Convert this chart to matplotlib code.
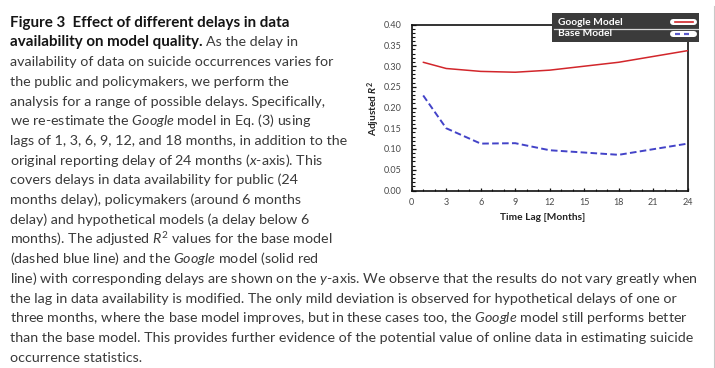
import matplotlib
matplotlib.use('Agg')
import matplotlib.pyplot as plt
from matplotlib.patches import Rectangle
from matplotlib.lines import Line2D
from matplotlib.ticker import MultipleLocator, FormatStrFormatter

# ---------------- data ----------------
lags = [1, 3, 6, 9, 12, 18, 24]
google_r2 = [0.309, 0.294, 0.287, 0.285, 0.290, 0.309, 0.337]
base_r2 = [0.229, 0.150, 0.113, 0.114, 0.097, 0.086, 0.113]
x_ticks = [0, 3, 6, 9, 12, 15, 18, 21, 24]
y_ticks = [0.00, 0.05, 0.10, 0.15, 0.20, 0.25, 0.30, 0.35, 0.40]
series_names = ['Google Model', 'Base Model']
x_label = 'Time Lag [Months]'
y_label = r'Adjusted $\mathbfit{R}^{\mathbf{2}}$'

caption_title = 'Figure 3  Effect of different delays in data'
caption_bold2 = 'availability on model quality.'
caption_rest2 = 'As the delay in'
caption_lines = [
    'availability of data on suicide occurrences varies for',
    'the public and policymakers, we perform the',
    'analysis for a range of possible delays. Specifically,',
    r'we re-estimate the $\mathit{Google}$ model in Eq. (3) using',
    'lags of 1, 3, 6, 9, 12, and 18 months, in addition to the',
    r'original reporting delay of 24 months ($\mathit{x}$-axis). This',
    'covers delays in data availability for public (24',
    'months delay), policymakers (around 6 months',
    'delay) and hypothetical models (a delay below 6',
    r'months). The adjusted $\mathit{R}^{2}$ values for the base model',
    r'(dashed blue line) and the $\mathit{Google}$ model (solid red',
    r'line) with corresponding delays are shown on the $\mathit{y}$-axis. We observe that the results do not vary greatly when',
    'the lag in data availability is modified. The only mild deviation is observed for hypothetical delays of one or',
    r'three months, where the base model improves, but in these cases too, the $\mathit{Google}$ model still performs better',
    'than the base model. This provides further evidence of the potential value of online data in estimating suicide',
    'occurrence statistics.',
]

# ---------------- style ----------------
FONT = 'Lato'
plt.rcParams.update({
    'font.family': [FONT, 'DejaVu Sans'],
    'mathtext.fontset': 'custom',
    'mathtext.rm': 'Lato',
    'mathtext.it': 'Lato:italic',
    'mathtext.bf': 'Lato:bold',
    'mathtext.bfit': 'Lato:italic:bold',
})

W, H = 715, 368
fig = plt.figure(figsize=(W / 100, H / 100), dpi=100)
fig.patch.set_facecolor('white')
PT = 72 / 100  # points per pixel


def fx(x):
    return x / W


def fy(y):
    return 1 - y / H


# ---------------- chart ----------------
ax_l, ax_r, ax_t, ax_b = 411.7, 687.7, 24.5, 190.5
ax = fig.add_axes([fx(ax_l), fy(ax_b), (ax_r - ax_l) / W, (ax_b - ax_t) / H])
ax.plot(lags, google_r2, color='#d2262b', lw=1.1, solid_capstyle='round', zorder=3)
ax.plot(lags, base_r2, color='#4343c8', lw=1.4, dashes=(3.4, 1.7), zorder=3)

ax.set_xlim(0, 24)
ax.set_ylim(0, 0.40)
ax.set_xticks(x_ticks)
ax.set_yticks(y_ticks)
ax.xaxis.set_minor_locator(MultipleLocator(1))
ax.yaxis.set_minor_locator(MultipleLocator(0.01))
ax.yaxis.set_major_formatter(FormatStrFormatter('%.2f'))
ax.tick_params(axis='both', which='both', direction='in', colors='#111111',
               labelcolor='#4a4a4a', labelsize=6.5)
ax.tick_params(axis='y', which='major', length=3, width=0.9, pad=7.6)
ax.tick_params(axis='y', which='minor', length=2, width=0.8)
ax.tick_params(axis='x', which='major', length=2.5, width=0.9, pad=5.6)
ax.tick_params(axis='x', which='minor', length=1.8, width=0.8)
for s in ax.spines.values():
    s.set_linewidth(1.2)
    s.set_color('#111111')

fig.text(fx(542.5), fy(218), x_label, ha='center', va='center',
         fontsize=7.3, fontweight='bold', color='#222222')
fig.text(fx(373.3), fy(109), y_label, ha='center', va='center', rotation=90,
         fontsize=7.3, fontweight='bold', color='#222222')

# ---------------- legend (custom dark box) ----------------
lg_l, lg_r, lg_t, lg_b = 551.7, 699.3, 12.7, 42.3
fig.add_artist(Rectangle((fx(lg_l), fy(lg_b)), (lg_r - lg_l) / W, (lg_b - lg_t) / H,
                         transform=fig.transFigure, facecolor='#3b3b3b',
                         edgecolor='none', zorder=5))
fig.add_artist(Line2D([fx(553.5), fx(697.5)], [fy(28.5), fy(28.5)],
                      transform=fig.transFigure, color='#d8d8d8', lw=0.9, zorder=6))
row_y = [22.2, 33.8]
styles = [dict(color='#d2262b', lw=1.2),
          dict(color='#5a5acc', lw=1.6, dashes=(2.25, 1.8))]
for name, yy, st in zip(series_names, row_y, styles):
    fig.text(fx(557.8), fy(yy), name, ha='left', va='center', fontsize=7.4,
             fontweight='bold', color='white', zorder=7)
    # white pill behind the sample line
    fig.add_artist(Line2D([fx(673.0), fx(694.0)], [fy(yy), fy(yy)],
                          transform=fig.transFigure, color='white', lw=6.0 * PT,
                          solid_capstyle='round', zorder=6))
    fig.add_artist(Line2D([fx(674.5), fx(692.5)], [fy(yy), fy(yy)],
                          transform=fig.transFigure, zorder=7, **st))

# faint panel border at right
fig.add_artist(Line2D([fx(713.5), fx(713.5)], [fy(6), fy(368)], transform=fig.transFigure,
                      color='#c9c9c9', lw=0.8, zorder=1))

# ---------------- caption ----------------
renderer = fig.canvas.get_renderer()


def ink_width(s, size, **kw):
    t = fig.text(0, 0.5, s, fontsize=size, **kw)
    w = t.get_window_extent(renderer).width
    t.remove()
    return w


w10 = ink_width(caption_lines[12], 10)
fs = 10 * (682 - 10) / w10 * 0.993
fs_b = fs * 1.06

x0 = 10
base0 = 26.7
step = 19.72
fig.text(fx(x0), fy(base0), caption_title, ha='left', va='baseline', fontsize=fs_b,
         fontweight='bold', color='#151515')
# second line: bold lead-in followed by regular text
y2 = base0 + step
fig.text(fx(x0), fy(y2), caption_bold2, ha='left', va='baseline', fontsize=fs_b,
         fontweight='bold', color='#151515')
bw = ink_width(caption_bold2, fs_b, fontweight='bold')
sp = ink_width('x x', fs) - ink_width('xx', fs)
fig.text(fx(x0 + bw + sp), fy(y2), caption_rest2, ha='left', va='baseline',
         fontsize=fs, color='#3a3a3a')
for i, line in enumerate(caption_lines):
    fig.text(fx(x0), fy(base0 + (i + 2) * step), line, ha='left', va='baseline',
             fontsize=fs, color='#3a3a3a')

fig.savefig('out.png', dpi=100)
